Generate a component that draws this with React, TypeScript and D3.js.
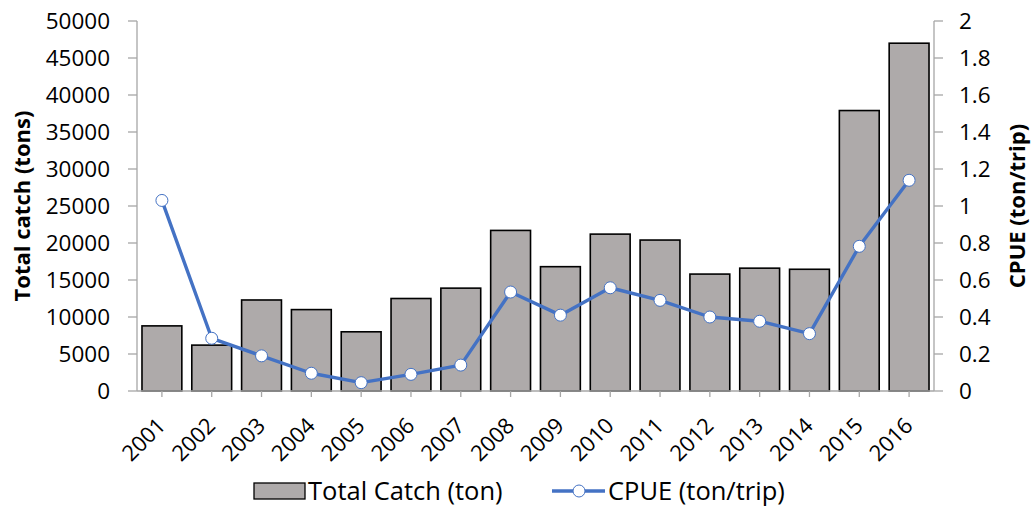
import React from "react";
import * as d3 from "d3";

const years = ["2001","2002","2003","2004","2005","2006","2007","2008","2009","2010","2011","2012","2013","2014","2015","2016"];
const totalCatch = [8800, 6200, 12300, 11000, 8000, 12500, 13900, 21700, 16800, 21200, 20400, 15800, 16600, 16450, 37900, 47000];
const cpue = [1.03, 0.285, 0.19, 0.096, 0.045, 0.09, 0.14, 0.535, 0.41, 0.558, 0.49, 0.40, 0.377, 0.31, 0.782, 1.139];
const leftTicks = [0, 5000, 10000, 15000, 20000, 25000, 30000, 35000, 40000, 45000, 50000];
const rightTicks = [0, 0.2, 0.4, 0.6, 0.8, 1, 1.2, 1.4, 1.6, 1.8, 2];

const W = 1034, H = 506;
const left = 137, right = 934, top = 21, bottom = 391;
const font = "'Open Sans', 'Noto Sans', sans-serif";
const axisColor = "#A6A6A6";
const barFill = "#AEAAAA";
const lineColor = "#4472C4";

export default function App() {
  const x = d3.scaleBand<string>().domain(years).range([left, right]).paddingInner(0.2).paddingOuter(0.1);
  const yL = d3.scaleLinear().domain([0, 50000]).range([bottom, top]);
  const yR = d3.scaleLinear().domain([0, 2]).range([bottom, top]);
  const cx = (d: string) => (x(d) as number) + x.bandwidth() / 2;
  const line = d3.line<number>().x((_, i) => cx(years[i])).y((v) => yR(v));

  return (
    <svg width={W} height={H} style={{ position: "absolute", left: 0, top: 0, background: "#fff" }} fontFamily={font}>
      {/* bars */}
      {years.map((yr, i) => (
        <rect key={yr} x={x(yr)} y={yL(totalCatch[i])} width={x.bandwidth()} height={bottom - yL(totalCatch[i])}
          fill={barFill} stroke="#000" strokeWidth={1.6} />
      ))}
      {/* axes */}
      <line x1={left} x2={left} y1={top} y2={bottom} stroke={axisColor} strokeWidth={1.3} />
      <line x1={right} x2={right} y1={top} y2={bottom} stroke={axisColor} strokeWidth={1.3} />
      <line x1={left} x2={right} y1={bottom} y2={bottom} stroke={axisColor} strokeWidth={1.3} />
      {leftTicks.map((t) => (
        <g key={"l" + t}>
          <line x1={left - 9} x2={left} y1={yL(t)} y2={yL(t)} stroke={axisColor} strokeWidth={1.3} />
          <text x={110} y={yL(t)} dy="0.36em" textAnchor="end" fontSize={22.5} fill="#000">{t}</text>
        </g>
      ))}
      {rightTicks.map((t) => (
        <g key={"r" + t}>
          <line x1={right} x2={right + 9} y1={yR(t)} y2={yR(t)} stroke={axisColor} strokeWidth={1.3} />
          <text x={959} y={yR(t)} dy="0.36em" textAnchor="start" fontSize={22.5} fill="#000">{String(t)}</text>
        </g>
      ))}
      {years.map((yr) => (
        <g key={"x" + yr}>
          <line x1={cx(yr)} x2={cx(yr)} y1={bottom} y2={bottom + 6} stroke={axisColor} strokeWidth={1.3} />
          <text transform={`translate(${cx(yr) + 5},${427}) rotate(-45)`} textAnchor="end" fontSize={22} fill="#000">{yr}</text>
        </g>
      ))}
      {/* axis titles */}
      <text transform={`translate(30,${(top + bottom) / 2}) rotate(-90)`} textAnchor="middle" fontSize={22} fontWeight="bold" fill="#000">Total catch (tons)</text>
      <text transform={`translate(1025,${(top + bottom) / 2}) rotate(-90)`} textAnchor="middle" fontSize={22} fontWeight="bold" fill="#000">CPUE (ton/trip)</text>
      {/* line */}
      <path d={line(cpue) || ""} fill="none" stroke={lineColor} strokeWidth={3.4} strokeLinejoin="round" />
      {cpue.map((v, i) => (
        <circle key={"c" + i} cx={cx(years[i])} cy={yR(v)} r={6} fill="#fff" stroke={lineColor} strokeWidth={1} />
      ))}
      {/* legend */}
      <rect x={254} y={483} width={51} height={16} fill={barFill} stroke="#000" strokeWidth={1.3} />
      <text x={308} y={491} dy="0.36em" fontSize={25.5} fill="#000">Total Catch (ton)</text>
      <line x1={552} x2={605} y1={491} y2={491} stroke={lineColor} strokeWidth={3.4} />
      <circle cx={579} cy={491} r={6} fill="#fff" stroke={lineColor} strokeWidth={1} />
      <text x={608} y={491} dy="0.36em" fontSize={25.5} fill="#000">CPUE (ton/trip)</text>
    </svg>
  );
}
